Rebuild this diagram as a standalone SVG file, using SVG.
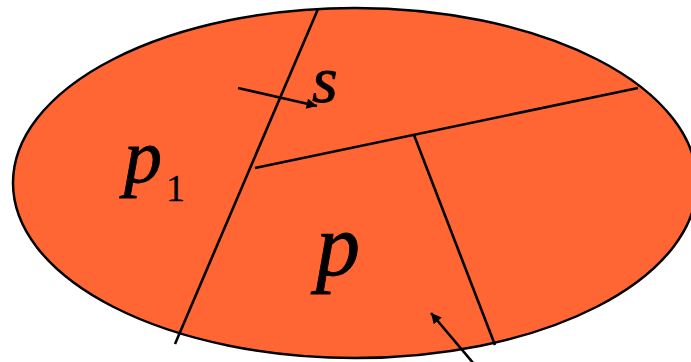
<svg xmlns="http://www.w3.org/2000/svg" width="691" height="362" viewBox="0 0 691 362">
<style>
.ln{stroke:#000;stroke-width:2.6;fill:none}
.lbl{font-family:'Liberation Serif','Times New Roman','DejaVu Serif',serif;font-style:italic;fill:#000;stroke:#000;stroke-width:0.8}
.sub{font-style:normal;stroke-width:0.3}
</style>
<defs>
<marker id="ah" viewBox="0 0 10 10" refX="10" refY="5" markerWidth="5" markerHeight="4" orient="auto" markerUnits="strokeWidth">
<path d="M0,0 L10,5 L0,10 Z" fill="#000"/>
</marker>
</defs>
<rect width="691" height="362" fill="#fff"/>
<g id="region">
<ellipse cx="355" cy="183" rx="342" ry="175" fill="#FF6633" stroke="#000" stroke-width="2.5"/>
</g>
<g id="connectors">
<line class="ln" x1="318" y1="9" x2="175" y2="344"/>
<line class="ln" x1="255" y1="168" x2="638" y2="88"/>
<line class="ln" x1="414" y1="135" x2="495" y2="345"/>
<line class="ln" x1="238" y1="88" x2="317" y2="106" marker-end="url(#ah)"/>
<line class="ln" x1="474" y1="364" x2="431" y2="313" marker-end="url(#ah)"/>
</g>
<g id="labels">
<text class="lbl" x="312" y="102" font-size="66">s</text>
<text class="lbl" x="124" y="182" font-size="76">p<tspan class="sub" font-size="38" dx="4" dy="19">1</tspan></text>
<text class="lbl" x="316" y="275" font-size="88">p</text>
</g>
</svg>
